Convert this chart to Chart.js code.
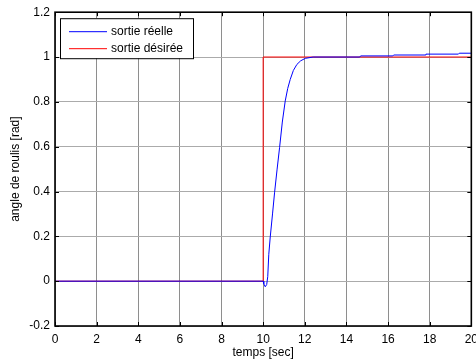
<!DOCTYPE html>
<html>
<head>
<meta charset="utf-8">
<script src="https://cdn.jsdelivr.net/npm/chart.js@4/dist/chart.umd.min.js"></script>
<style>
  html, body { margin: 0; padding: 0; background: #fff; overflow: hidden; }
  #wrap { width: 484px; height: 364px; }
</style>
</head>
<body>
<div id="wrap"><canvas id="c" width="484" height="364"></canvas></div>
<script>
// Roll angle response of the closed loop to a unit step applied at t = 10 s
const timeActual = [0, 10, 10.03, 10.1, 10.17, 10.22, 10.27, 10.34, 10.45, 10.55, 10.67, 10.79, 10.92, 11.06, 11.18, 11.3, 11.45, 11.62, 11.8, 12.02, 12.4, 14.64, 14.68, 16.23, 16.27, 17.78, 17.82, 19.38, 19.42, 20];
const rollActual = [0, 0, -0.012, -0.025, -0.015, 0.02, 0.12, 0.197, 0.3, 0.397, 0.5, 0.597, 0.71, 0.804, 0.86, 0.9, 0.94, 0.967, 0.983, 0.994, 1.0, 1.0, 1.005, 1.005, 1.009, 1.009, 1.013, 1.013, 1.017, 1.017];

const timeDesired = [0, 10, 10, 20];
const rollDesired = [0, 0, 1, 1];

const seriesLabels = ['sortie réelle', 'sortie désirée'];
const seriesColors = ['#0000ff', '#ff0000'];

const xTicks = [0, 2, 4, 6, 8, 10, 12, 14, 16, 18, 20];
const yTicks = [-0.2, 0, 0.2, 0.4, 0.6, 0.8, 1, 1.2];

const xTitle = 'temps [sec]';
const yTitle = 'angle de roulis [rad]';

const FONT = 'Liberation Sans, Arial, Helvetica, sans-serif';

const toPoints = (xs, ys) => xs.map((x, i) => ({ x: x, y: ys[i] }));

// Frame, inward tick marks and the boxed legend in the upper-left corner
const framePlugin = {
  id: 'frame',
  afterDraw(chart) {
    const ctx = chart.ctx;
    const a = chart.chartArea;
    const xs = chart.scales.x, ys = chart.scales.y;
    ctx.save();
    ctx.strokeStyle = '#000';
    ctx.lineWidth = 1;
    const tl = 4;
    ctx.beginPath();
    xTicks.forEach(v => {
      const px = Math.round(xs.getPixelForValue(v)) + 0.5;
      ctx.moveTo(px, a.bottom); ctx.lineTo(px, a.bottom - tl);
      ctx.moveTo(px, a.top); ctx.lineTo(px, a.top + tl);
    });
    yTicks.forEach(v => {
      const py = Math.round(ys.getPixelForValue(v)) + 0.5;
      ctx.moveTo(a.left, py); ctx.lineTo(a.left + tl, py);
      ctx.moveTo(a.right, py); ctx.lineTo(a.right - tl, py);
    });
    ctx.stroke();
    ctx.lineWidth = 1.6;
    ctx.strokeRect(a.left, a.top, a.right - a.left, a.bottom - a.top);

    // legend
    const lx = a.left + 5, ly = a.top + 6, lw = 133, lh = 40;
    ctx.fillStyle = '#fff';
    ctx.fillRect(lx, ly, lw, lh);
    ctx.lineWidth = 1;
    ctx.strokeStyle = '#000';
    ctx.strokeRect(lx + 0.5, ly + 0.5, lw, lh);
    ctx.font = '12px ' + FONT;
    ctx.textBaseline = 'middle';
    ctx.textAlign = 'left';
    chart.data.datasets.forEach((ds, i) => {
      const ry = ly + 13 + i * 17;
      ctx.strokeStyle = ds.borderColor;
      ctx.beginPath();
      ctx.moveTo(lx + 9, ry + 0.5);
      ctx.lineTo(lx + 47, ry + 0.5);
      ctx.stroke();
      ctx.fillStyle = '#000';
      ctx.fillText(ds.label, lx + 51, ry);
    });
    ctx.restore();
  }
};

new Chart(document.getElementById('c'), {
  type: 'scatter',
  data: {
    datasets: [
      {
        label: seriesLabels[0],
        data: toPoints(timeActual, rollActual),
        showLine: true,
        borderColor: seriesColors[0],
        borderWidth: 1,
        pointRadius: 0,
        tension: 0
      },
      {
        label: seriesLabels[1],
        data: toPoints(timeDesired, rollDesired),
        showLine: true,
        borderColor: seriesColors[1],
        borderWidth: 1,
        pointRadius: 0,
        tension: 0
      }
    ]
  },
  options: {
    responsive: false,
    animation: false,
    layout: { padding: { top: 11, left: 0, right: 0, bottom: 0 } },
    plugins: {
      legend: { display: false },
      tooltip: { enabled: false }
    },
    scales: {
      x: {
        type: 'linear',
        min: 0, max: 20,
        afterBuildTicks: s => { s.ticks = xTicks.map(v => ({ value: v })); },
        afterFit: s => { s.height = 38; },
        grid: { color: '#8e8e8e', lineWidth: 1, drawTicks: false },
        border: { display: false },
        ticks: { color: '#000', padding: 6, maxRotation: 0, font: { family: FONT, size: 12 },
                 callback: v => String(v) },
        title: { display: true, text: xTitle, color: '#000',
                 font: { family: FONT, size: 12 }, padding: { top: 0, bottom: 4 } }
      },
      y: {
        type: 'linear',
        min: -0.2, max: 1.2,
        afterBuildTicks: s => { s.ticks = yTicks.map(v => ({ value: v })); },
        afterFit: s => { s.width = 55; },
        grid: { color: '#ababab', lineWidth: 1, drawTicks: false },
        border: { display: false },
        ticks: { color: '#000', padding: 5, font: { family: FONT, size: 12 },
                 callback: v => String(+v.toFixed(1)) },
        title: { display: true, text: yTitle, color: '#000',
                 font: { family: FONT, size: 12 }, padding: { top: 8, bottom: 0 } }
      }
    }
  },
  plugins: [framePlugin]
});
</script>
</body>
</html>
